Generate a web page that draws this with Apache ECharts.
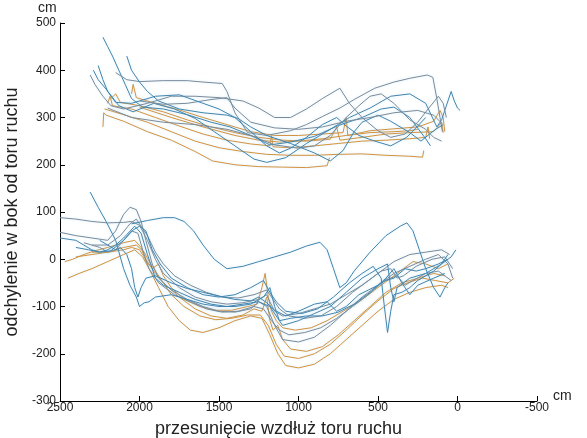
<!DOCTYPE html>
<html>
<head>
<meta charset="utf-8">
<script src="https://cdn.jsdelivr.net/npm/echarts@6/dist/echarts.min.js"></script>
<style>
  html, body { margin: 0; padding: 0; background: #fff; }
  #chart { width: 587px; height: 438px; }
</style>
</head>
<body>
<div id="chart"></div>
<script>
// kolory przebiegów
var GREY = '#7a8a99'
var BLUE = '#4084ae'
var ORANGE = '#d3913c'

// górna wiązka – [przesunięcie cm, odchylenie cm]
var uo1 = [[2230,280],[2225,310],[2210,305],[2100,292],[1950,270],[1800,252],[1650,228],[1540,208],[1400,200],[1250,196],[1100,195],[950,194],[820,198],[805,215]]
var uo2 = [[2220,318],[2100,306],[1950,290],[1800,270],[1650,250],[1500,236],[1350,228],[1200,222],[1050,220],[900,220],[750,222],[600,223],[450,220],[300,218],[220,216],[212,230]]
var uo3 = [[2200,330],[2185,345],[2170,325],[2050,318],[1900,300],[1750,282],[1600,265],[1450,252],[1300,244],[1180,240],[1170,262],[1160,238],[1050,236],[900,240],[750,245],[600,250],[450,252],[300,255],[200,258],[185,280],[175,255]]
var uo4 = [[2180,340],[2150,350],[2120,332],[2000,325],[1850,312],[1700,295],[1550,280],[1400,268],[1250,258],[1100,252],[950,250],[800,254],[760,280],[740,252],[600,258],[450,265],[300,268],[150,270],[100,290],[90,268]]
var uo5 = [[2050,350],[2040,370],[2020,342],[1900,330],[1750,316],[1600,300],[1450,285],[1300,270],[1150,262],[1000,262],[850,265],[720,268],[700,300],[690,262],[550,272],[400,276],[250,280],[150,292],[110,315],[90,300],[80,270]]
var uo6 = [[2000,322],[1800,300],[1600,280],[1400,262],[1250,252],[1120,248],[1000,250],[850,255],[700,262],[550,268],[400,270],[300,272],[250,275]]
var ub1 = [[2230,470],[2200,450],[2170,430],[2130,400],[2090,370],[2050,340],[1980,322],[1850,318],[1700,306],[1550,290],[1430,280],[1300,262],[1180,242],[1050,248],[900,260],[750,283],[600,300],[480,318],[400,322],[300,300],[200,255],[170,240]]
var ub2 = [[2290,400],[2260,380],[2210,360],[2130,325],[2040,312],[1910,330],[1780,318],[1650,298],[1530,270],[1400,240],[1280,212],[1200,205],[1080,215],[950,245],[800,275],[680,300],[550,320],[420,345],[300,350],[200,330],[130,280],[100,295],[60,335],[40,355],[20,335],[0,320],[-16,315]]
var ug3 = [[2150,395],[2080,380],[2000,376],[1850,378],[1700,378],[1600,375],[1480,372],[1450,355],[1400,310],[1320,268],[1200,262],[1050,272],[950,285],[850,302],[740,320],[650,338],[520,362],[400,375],[300,383],[190,390],[155,385],[130,340],[110,300],[95,270]]
var ug4 = [[2310,390],[2280,370],[2230,345],[2180,325],[2100,318],[1950,330],[1800,345],[1650,345],[1500,342],[1350,335],[1250,320],[1150,300],[1050,300],[950,318],[850,340],[740,362],[680,330],[600,300],[500,272],[420,258],[330,265],[250,290],[180,320],[120,345],[90,330],[70,300]]
var ug5 = [[2200,320],[2050,300],[1850,290],[1650,285],[1450,275],[1300,262],[1150,242],[1000,235],[900,240],[800,262],[700,300],[620,325],[550,345],[480,350],[400,330],[300,295],[200,275],[150,258],[100,250]]
var ub6 = [[2080,430],[2050,400],[2000,375],[1950,355],[1880,335],[1750,318],[1600,310],[1450,305],[1380,298],[1300,280],[1200,262],[1050,245],[900,225],[800,208],[720,230],[650,270],[600,290],[500,305],[420,292],[300,268],[230,250],[150,272],[90,285]]
var ug7 = [[2000,335],[1850,328],[1700,330],[1550,338],[1450,342],[1400,320],[1300,290],[1150,278],[1000,275],[850,280],[700,292],[550,300],[400,310],[250,315],[150,305],[100,288]]
var ub8 = [[2260,410],[2230,380],[2200,355],[2150,332],[2050,330],[1900,345],[1750,348],[1600,330],[1500,318],[1400,300],[1300,270],[1200,240],[1120,225],[1050,235],[950,258],[850,285],[760,300],[700,282],[620,262],[520,250],[420,240],[320,258],[250,282],[200,300]]

// dolna wiązka
var lb1 = [[2310,142],[2260,110],[2210,80],[2150,40],[2100,-20],[2060,-55],[2020,-80],[2000,-100],[1970,-92],[1940,-90],[1900,-80],[1800,-75],[1700,-85],[1600,-95],[1500,-100],[1400,-100],[1300,-95],[1220,-80],[1180,-60],[1150,-100],[1120,-130],[1100,-140],[1000,-130],[900,-115],[800,-100],[700,-70],[600,-40],[500,-20],[440,-10],[420,-60],[400,-90],[380,-60],[300,-40],[200,-30],[100,-10],[60,10]]
var lb2 = [[2050,75],[1950,82],[1850,88],[1780,88],[1720,80],[1660,60],[1600,30],[1530,0],[1450,-20],[1350,-15],[1250,-5],[1150,5],[1050,15],[950,28],[865,36],[820,20],[780,-20],[740,-60],[700,-50],[650,-25],[550,15],[450,50],[360,70],[318,77],[280,60],[240,20],[200,-20],[150,-60],[110,-80],[80,-60],[60,-50]]
var lg1 = [[2500,88],[2400,85],[2300,80],[2200,77],[2100,78],[2050,80],[2000,72],[1950,40],[1900,0],[1850,-30],[1750,-60],[1650,-80],[1550,-90],[1450,-95],[1350,-92],[1250,-85],[1200,-75],[1180,-90],[1150,-110],[1100,-120],[1000,-115],[900,-105],[800,-95],[700,-75],[600,-55],[500,-30],[400,-5],[300,10],[200,15],[100,20],[50,10]]
var lg2 = [[2500,57],[2400,50],[2300,45],[2200,40],[2150,60],[2100,95],[2060,110],[2020,105],[1990,80],[1960,40],[1920,-10],[1880,-40],[1800,-65],[1700,-85],[1600,-100],[1500,-110],[1400,-112],[1300,-105],[1250,-90],[1200,-100],[1150,-140],[1100,-170],[1000,-175],[900,-165],[800,-140],[700,-110],[600,-80],[500,-55],[400,-30],[300,-15],[200,0],[120,10],[60,-10],[30,-40]]
var lb3 = [[2500,45],[2400,40],[2350,30],[2300,20],[2250,15],[2200,20],[2150,30],[2100,45],[2030,70],[1990,55],[1950,10],[1900,-40],[1850,-55],[1750,-70],[1650,-85],[1550,-95],[1450,-100],[1350,-95],[1250,-90],[1180,-100],[1120,-130],[1050,-125],[950,-120],[850,-120],[750,-112],[650,-95],[550,-70],[450,-40],[400,-20],[350,-50],[300,-75],[250,-55],[150,-40],[80,-30]]
var lo4 = [[2470,-5],[2420,0],[2350,10],[2280,18],[2200,25],[2100,35],[2030,40],[1990,25],[1960,-5],[1930,-15],[1900,-30],[1850,-50],[1750,-80],[1650,-105],[1550,-120],[1450,-125],[1350,-118],[1280,-105],[1230,-110],[1200,-80],[1180,-130],[1160,-150],[1130,-140],[1100,-170],[1050,-190],[950,-195],[850,-185],[750,-160],[650,-130],[550,-100],[450,-70],[350,-50],[250,-40],[150,-30],[80,-35]]
var lo5 = [[2450,-40],[2380,-30],[2300,-20],[2200,-5],[2100,10],[2030,20],[1980,5],[1940,-20],[1880,-60],[1820,-100],[1750,-130],[1680,-150],[1600,-155],[1500,-145],[1400,-130],[1300,-120],[1230,-125],[1180,-160],[1130,-200],[1080,-225],[1000,-230],[900,-222],[800,-200],[700,-170],[600,-140],[500,-110],[400,-85],[300,-70],[200,-60],[100,-55],[60,-60]]
var lg6 = [[2350,35],[2250,25],[2200,15],[2150,20],[2100,40],[2050,60],[2010,55],[1980,20],[1940,-20],[1880,-50],[1780,-75],[1680,-90],[1580,-105],[1480,-112],[1380,-110],[1280,-100],[1220,-105],[1170,-130],[1120,-150],[1060,-160],[960,-155],[860,-145],[760,-125],[660,-100],[560,-75],[460,-45],[380,-35],[330,-55],[280,-45],[200,-30],[120,-25],[40,-45]]
var lo7 = [[2400,5],[2300,10],[2200,15],[2100,25],[2020,30],[1970,15],[1930,-10],[1870,-40],[1800,-75],[1720,-100],[1620,-120],[1520,-128],[1420,-125],[1320,-118],[1240,-118],[1190,-140],[1140,-180],[1090,-205],[1000,-210],[900,-200],[800,-180],[700,-150],[600,-118],[500,-88],[400,-62],[300,-48],[220,-40],[140,-45],[60,-50],[20,-40]]
var lb8 = [[2400,25],[2320,20],[2250,15],[2180,18],[2100,40],[2040,62],[2000,70],[1960,60],[1920,20],[1870,-10],[1800,-40],[1700,-60],[1600,-75],[1500,-80],[1400,-75],[1300,-60],[1220,-45],[1180,-70],[1140,-90],[1080,-110],[980,-115],[880,-105],[780,-80],[680,-50],[600,-30],[530,-15],[480,-40],[460,-100],[440,-155],[420,-110],[400,-75],[350,-70],[300,-60],[250,-45],[200,-35],[150,-25],[100,-10],[40,5],[10,20]]
var lg9 = [[2300,30],[2200,30],[2120,50],[2060,75],[2020,85],[1990,70],[1950,50],[1900,15],[1850,-10],[1780,-35],[1680,-55],[1580,-70],[1480,-80],[1380,-82],[1280,-75],[1200,-65],[1160,-85],[1120,-105],[1060,-120],[960,-125],[860,-120],[760,-100],[660,-70],[560,-45],[480,-25],[420,-20],[380,-40],[340,-35],[260,-15],[160,0],[80,5],[30,-20]]
var lb10 = [[2250,40],[2200,30],[2150,20],[2120,25],[2080,10],[2050,-20],[2030,-60],[2010,-80],[1990,-60],[1960,-40],[1900,-35],[1800,-50],[1700,-62],[1600,-70],[1500,-78],[1400,-85],[1300,-88],[1250,-80],[1200,-92],[1150,-108],[1080,-120],[1000,-110],[900,-95],[820,-90],[760,-110],[700,-100],[620,-75],[560,-65],[500,-55],[450,-45],[400,-40],[330,-20],[260,-25],[200,-20],[120,-10],[60,0]]
var lo11 = [[2300,15],[2200,15],[2100,20],[2050,25],[2000,20],[1960,0],[1920,-20],[1880,-10],[1850,-35],[1800,-60],[1720,-85],[1620,-100],[1520,-108],[1420,-108],[1320,-100],[1260,-95],[1230,-60],[1210,-30],[1190,-80],[1170,-110],[1140,-130],[1100,-145],[1020,-150],[920,-145],[820,-130],[720,-110],[620,-90],[520,-65],[420,-40],[340,-20],[280,-5],[200,-10],[120,-20],[60,-10]]

var xTicks = [2500, 2000, 1500, 1000, 500, 0, -500]
var yTicks = [-300, -200, -100, 0, 100, 200, 300, 400, 500]

var lines = [
  [uo1, ORANGE], [uo2, ORANGE], [uo3, ORANGE], [uo4, ORANGE], [uo5, ORANGE], [uo6, ORANGE],
  [ub1, BLUE], [ub2, BLUE], [ug3, GREY], [ug4, GREY], [ug5, GREY], [ub6, BLUE], [ug7, GREY], [ub8, BLUE],
  [lo4, ORANGE], [lo5, ORANGE], [lo7, ORANGE], [lo11, ORANGE],
  [lg1, GREY], [lg2, GREY], [lg6, GREY], [lg9, GREY],
  [lb1, BLUE], [lb2, BLUE], [lb3, BLUE], [lb8, BLUE], [lb10, BLUE]
]

var font = 'Liberation Sans, Arial, sans-serif'
var chart = echarts.init(document.getElementById('chart'))

var series = []
lines.forEach(function(item) {
  series.push({
    type: 'line',
    data: item[0],
    showSymbol: false,
    silent: true,
    lineStyle: {
      width: 1,
      color: item[1],
      shadowColor: 'rgba(140,200,235,0.35)',
      shadowBlur: 3
    }
  })
})

chart.setOption({
  animation: false,
  grid: { left: 60, right: 50, top: 23, bottom: 37, outerBoundsMode: 'none' },
  xAxis: {
    type: 'value',
    inverse: true,
    min: xTicks[xTicks.length - 1],
    max: xTicks[0],
    interval: 500,
    name: 'przesunięcie wzdłuż toru ruchu',
    nameLocation: 'middle',
    nameGap: 19,
    nameTextStyle: { fontFamily: font, fontSize: 18, color: '#222', padding: [0, 40, 0, 0] },
    axisLine: { onZero: false, lineStyle: { color: '#000' } },
    axisTick: { inside: true, length: 5, lineStyle: { color: '#000' } },
    axisLabel: { fontFamily: font, fontSize: 12, color: '#222', margin: 1, formatter: function(v) { return String(v) } },
    splitLine: { show: false }
  },
  yAxis: {
    type: 'value',
    position: 'left',
    min: yTicks[0],
    max: yTicks[yTicks.length - 1],
    interval: 100,
    name: 'odchylenie w bok od toru ruchu',
    nameLocation: 'middle',
    nameGap: 37,
    nameTextStyle: { fontFamily: font, fontSize: 18, color: '#222' },
    axisLine: { show: true, onZero: false, lineStyle: { color: '#000' } },
    axisTick: { show: true, inside: true, length: 5, lineStyle: { color: '#000' } },
    axisLabel: { fontFamily: font, fontSize: 12, color: '#222', margin: 4 },
    splitLine: { show: false }
  },
  graphic: [
    { type: 'text', left: 38, top: 1, style: { text: 'cm', fontFamily: font, fontSize: 14, fill: '#222' } },
    { type: 'text', left: 553, top: 389, style: { text: 'cm', fontFamily: font, fontSize: 14, fill: '#222' } }
  ],
  series: series
})
</script>
</body>
</html>
